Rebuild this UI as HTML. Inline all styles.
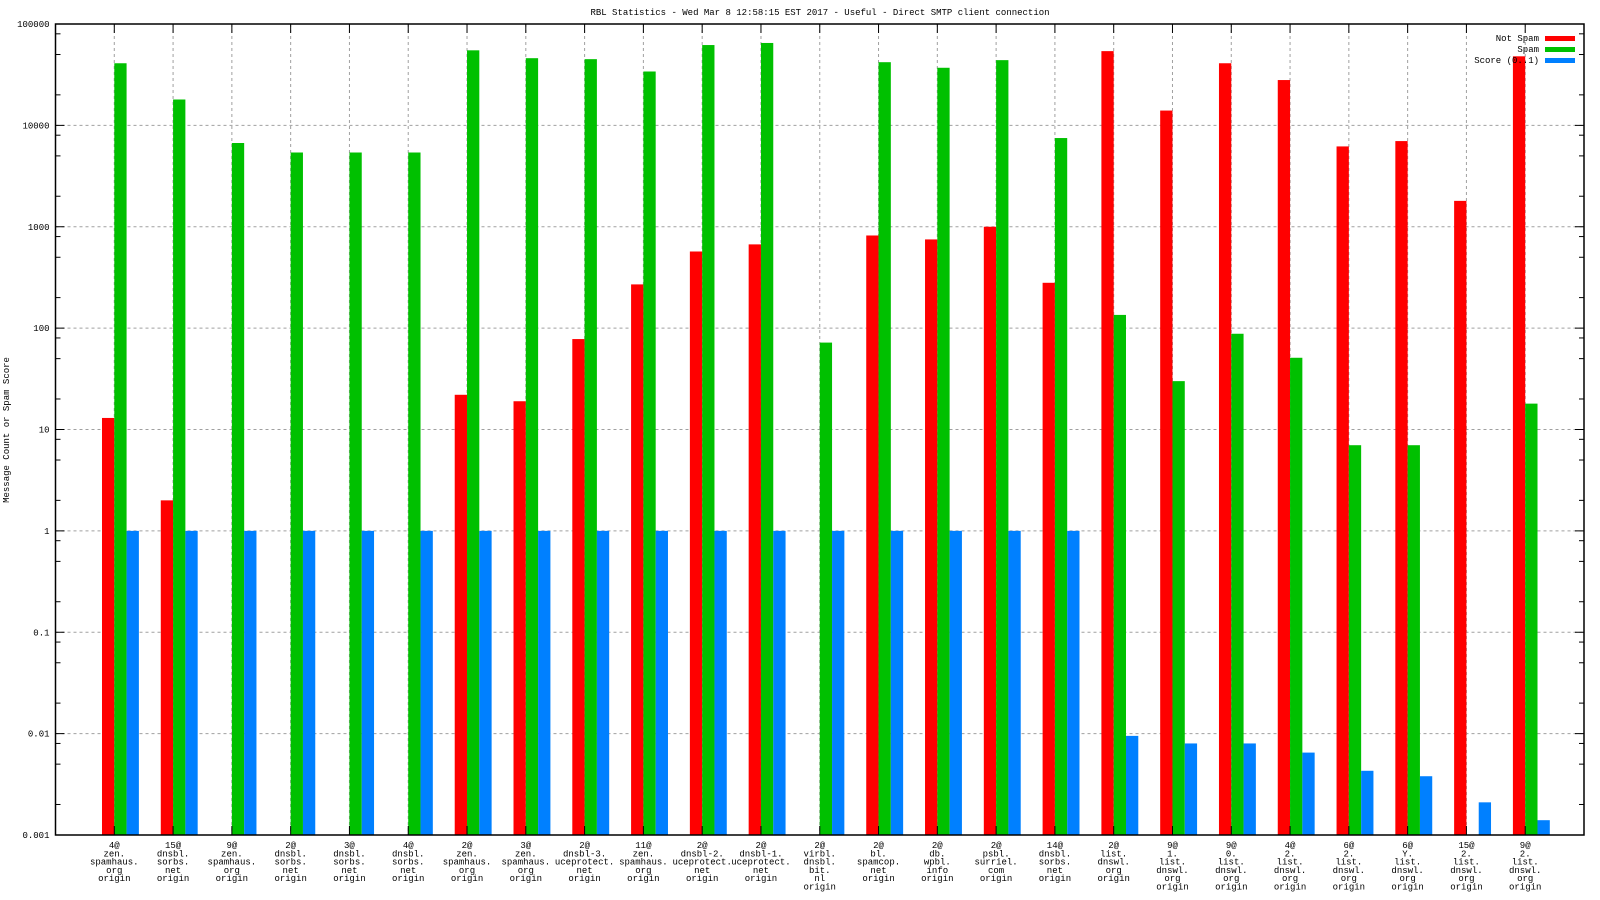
<!DOCTYPE html>
<html><head><meta charset="utf-8"><style>
html,body{margin:0;padding:0;background:#fff;}
svg{display:block;font-family:"Liberation Mono",monospace;}
</style></head><body>
<svg id="chart" width="1600" height="900" xmlns="http://www.w3.org/2000/svg">
<text x="820" y="15" font-size="9" text-anchor="middle">RBL Statistics - Wed Mar  8 12:58:15 EST 2017 - Useful - Direct SMTP client connection</text>
<text x="0" y="0" font-size="9" text-anchor="middle" transform="translate(9,430) rotate(-90)">Message Count or Spam Score</text>
<g id="grid"></g><g id="bars"></g><g id="axes"></g><g id="legend"></g>
</svg>
<script>
const categories = [
 ["4@","zen.","spamhaus.","org","origin"],["15@","dnsbl.","sorbs.","net","origin"],["9@","zen.","spamhaus.","org","origin"],
 ["2@","dnsbl.","sorbs.","net","origin"],["3@","dnsbl.","sorbs.","net","origin"],["4@","dnsbl.","sorbs.","net","origin"],
 ["2@","zen.","spamhaus.","org","origin"],["3@","zen.","spamhaus.","org","origin"],["2@","dnsbl-3.","uceprotect.","net","origin"],
 ["11@","zen.","spamhaus.","org","origin"],["2@","dnsbl-2.","uceprotect.","net","origin"],["2@","dnsbl-1.","uceprotect.","net","origin"],
 ["2@","virbl.","dnsbl.","bit.","nl","origin"],["2@","bl.","spamcop.","net","origin"],["2@","db.","wpbl.","info","origin"],
 ["2@","psbl.","surriel.","com","origin"],["14@","dnsbl.","sorbs.","net","origin"],["2@","list.","dnswl.","org","origin"],
 ["9@","1.","list.","dnswl.","org","origin"],["9@","0.","list.","dnswl.","org","origin"],["4@","2.","list.","dnswl.","org","origin"],
 ["6@","2.","list.","dnswl.","org","origin"],["6@","Y.","list.","dnswl.","org","origin"],["15@","2.","list.","dnswl.","org","origin"],
 ["9@","2.","list.","dnswl.","org","origin"]];
const notSpam = [13,2,null,null,null,null,22,19,78,270,570,670,null,820,750,1000,280,54000,14000,41000,28000,6200,7000,1800,48000];
const spam = [41000,18000,6700,5400,5400,5400,55000,46000,45000,34000,62000,65000,72,42000,37000,44000,7500,135,30,88,51,7,7,null,18];
const score = [1,1,1,1,1,1,1,1,1,1,1,1,1,1,1,1,1,0.0095,0.008,0.008,0.0065,0.0043,0.0038,0.0021,0.0014];
const yTicks = ["0.001","0.01","0.1","1","10","100","1000","10000","100000"];
const seriesNames = ["Not Spam","Spam","Score (0..1)"];
const colors = ["#ff0000","#00c000","#0080ff"];

const L=55.5,R=1584,T=24,B=835, NS="http://www.w3.org/2000/svg";
const x = i => L + (i+1)*(R-L)/26;
const y = v => B - (Math.log10(v)+3)*(B-T)/8;
const bw = 12.3;
function mk(tag,attrs,parent){const e=document.createElementNS(NS,tag);for(const k in attrs)e.setAttribute(k,attrs[k]);parent.appendChild(e);return e;}
const grid=document.getElementById('grid'),bars=document.getElementById('bars'),axes=document.getElementById('axes'),legend=document.getElementById('legend');

yTicks.forEach((t)=>{
  const yy=y(parseFloat(t));
  if(yy>T+1&&yy<B-1){const g=mk('line',{x1:L,x2:R,y1:yy,y2:yy,stroke:'#a0a0a0','stroke-dasharray':'3,3'},grid);
  
  }
  const tx=mk('text',{x:L-6,y:yy+3,'font-size':9,'text-anchor':'end'},axes);tx.textContent=t;
  
  
  mk('line',{x1:L,x2:L+9,y1:yy,y2:yy,stroke:'#000'},axes);
  mk('line',{x1:R,x2:R-9,y1:yy,y2:yy,stroke:'#000'},axes);
  const p=parseFloat(t);
  if(p<100000)[2,5,8].forEach(m=>{const my=y(p*m);mk('line',{x1:L,x2:L+5,y1:my,y2:my,stroke:'#000'},axes);mk('line',{x1:R,x2:R-5,y1:my,y2:my,stroke:'#000'},axes);});
});

categories.forEach((lab,i)=>{
  const cx=x(i);
  const g=mk('line',{x1:cx,x2:cx,y1:T,y2:B,stroke:'#a0a0a0','stroke-dasharray':'3,3'},grid);
  
  
  mk('line',{x1:cx,x2:cx,y1:B,y2:B-9,stroke:'#000'},axes);
  mk('line',{x1:cx,x2:cx,y1:T,y2:T+9,stroke:'#000'},axes);
  const tx=mk('text',{x:cx,y:B+13,'font-size':9,'text-anchor':'middle'},axes);
  
  
  lab.forEach((s,j)=>{const ts=mk('tspan',{x:cx,dy:j?8.3:0},tx);ts.textContent=s;});
  [notSpam,spam,score].forEach((arr,k)=>{
    const v=arr[i]; if(v==null) return;
    const top=y(v);
    const r=mk('rect',{x:cx+(k-1)*bw,y:top,width:bw,height:B-top,fill:colors[k]},bars);
    
    
  });
});
const frame=mk('rect',{x:L,y:T,width:R-L,height:B-T,fill:'none',stroke:'#000','stroke-width':1.5},axes);



seriesNames.forEach((n,k)=>{
  const ly=38+k*11;
  const t=mk('text',{x:1539,y:ly+3,'font-size':9,'text-anchor':'end'},legend);t.textContent=n;
  
  
  const r=mk('rect',{x:1545,y:ly-2,width:30,height:5,fill:colors[k]},legend);
  
  
});
</script>
</body></html>
